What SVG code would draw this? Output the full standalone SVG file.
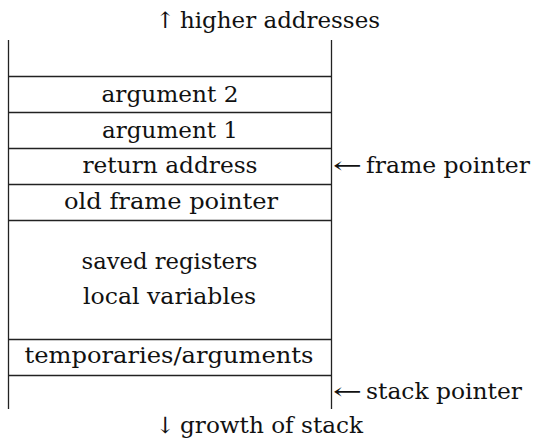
<svg xmlns="http://www.w3.org/2000/svg" width="535" height="442" viewBox="0 0 535 442">
<style>
text{font-family:"DejaVu Serif","Liberation Serif",serif;font-size:22.5px;fill:#111}
.c{text-anchor:middle}
.ln{stroke:#222;stroke-width:1.3;fill:none}
</style>
<rect width="535" height="442" fill="#fff"/>
<g id="labels">
<text class="c" x="165.5" y="28">↑</text>
<text x="180" y="28" textLength="200" lengthAdjust="spacingAndGlyphs">higher addresses</text>
<text class="c" x="165.5" y="433">↓</text>
<text x="180" y="433" textLength="183" lengthAdjust="spacingAndGlyphs">growth of stack</text>
<text x="333" y="173" textLength="29" lengthAdjust="spacingAndGlyphs">←</text>
<text x="366" y="173" textLength="164" lengthAdjust="spacingAndGlyphs">frame pointer</text>
<text x="333" y="399" textLength="29" lengthAdjust="spacingAndGlyphs">←</text>
<text x="366" y="399" textLength="156" lengthAdjust="spacingAndGlyphs">stack pointer</text>
</g>
<g id="connectors">
<line class="ln" x1="8.5" y1="40" x2="8.5" y2="409"/>
<line class="ln" x1="331.5" y1="40" x2="331.5" y2="409"/>
</g>
<g id="row-top"><line class="ln" x1="8.5" y1="76.5" x2="331.5" y2="76.5"/></g>
<g id="row-arg2"><line class="ln" x1="8.5" y1="112.5" x2="331.5" y2="112.5"/><text class="c" x="170" y="101.5" textLength="137" lengthAdjust="spacingAndGlyphs">argument 2</text></g>
<g id="row-arg1"><line class="ln" x1="8.5" y1="148.5" x2="331.5" y2="148.5"/><text class="c" x="170" y="137.5" textLength="136" lengthAdjust="spacingAndGlyphs">argument 1</text></g>
<g id="row-ret"><line class="ln" x1="8.5" y1="184.5" x2="331.5" y2="184.5"/><text class="c" x="170" y="173" textLength="175" lengthAdjust="spacingAndGlyphs">return address</text></g>
<g id="row-oldfp"><line class="ln" x1="8.5" y1="220.5" x2="331.5" y2="220.5"/><text class="c" x="171" y="209" textLength="214" lengthAdjust="spacingAndGlyphs">old frame pointer</text></g>
<g id="row-saved"><line class="ln" x1="8.5" y1="339.5" x2="331.5" y2="339.5"/><text class="c" x="169.5" y="268.5" textLength="176" lengthAdjust="spacingAndGlyphs">saved registers</text><text class="c" x="169.5" y="304" textLength="173" lengthAdjust="spacingAndGlyphs">local variables</text></g>
<g id="row-temp"><line class="ln" x1="8.5" y1="375.5" x2="331.5" y2="375.5"/><text class="c" x="169" y="363" textLength="289" lengthAdjust="spacingAndGlyphs">temporaries/arguments</text></g>
</svg>
